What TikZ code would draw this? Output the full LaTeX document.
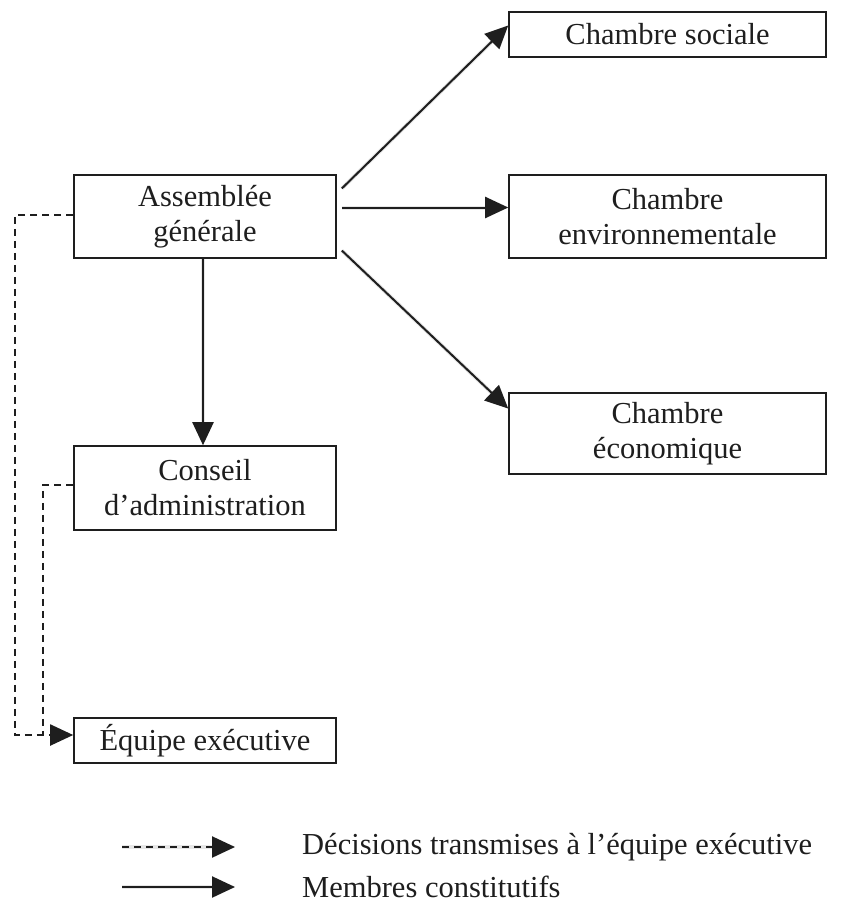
\documentclass[tikz,border=0pt]{standalone}
\usepackage{fontspec}
\setmainfont{Liberation Serif}
\usetikzlibrary{arrows.meta,calc}
\definecolor{ink}{HTML}{1E1E1E}
\definecolor{shade}{HTML}{D0D0D0}
\tikzset{
  box/.style={draw=ink, line width=1.6pt, minimum width=262pt, inner sep=0pt, align=center,
    text=ink, font=\fontsize{30.5}{35}\selectfont},
  lbl/.style={anchor=west, inner sep=0pt, text=ink, font=\fontsize{30.5}{35}\selectfont},
  conn/.style={draw=ink, line width=2pt, -{Triangle[length=23pt,width=21pt]}},
  dconn/.style={conn, dash pattern=on 7pt off 5pt},
  shd/.style={draw=shade, line width=4pt, -{Triangle[length=23pt,width=21pt]}, opacity=0.5}
}
\begin{document}
\begin{tikzpicture}[x=1pt,y=-1pt]
\useasboundingbox (0,0) rectangle (841,914);
% boxes
\node[box, minimum height=83pt] (ag) at (205,216.5) {Assemblée\\générale};
\node[box, minimum height=84pt] (cd) at (205,488) {Conseil\\d’administration};
\node[box, minimum height=45pt] (eq) at (205,740.5) {Équipe exécutive};
\node[box, minimum width=317pt, minimum height=45pt] (cs) at (667.5,34.5) {Chambre sociale};
\node[box, minimum width=317pt, minimum height=83pt] (ce) at (667.5,216.5) {Chambre\\environnementale};
\node[box, minimum width=317pt, minimum height=81pt] (cc) at (667.5,433.5) {Chambre\\économique};
% shadows
\begin{scope}[shift={(3,4)}]
\path[shd] ([shift={(5pt,28pt)}]ag.east) -- ([yshift=9pt]cs.west);
\path[shd] ([shift={(5pt,9pt)}]ag.east) -- ([yshift=9pt]ce.west);
\path[shd] ([shift={(5pt,-34pt)}]ag.east) -- ([yshift=25pt]cc.west);
\path[shd] ([xshift=-2pt]ag.south) -- ([xshift=-2pt]cd.north);
\end{scope}
% solid connectors
\draw[conn] ([shift={(5pt,28pt)}]ag.east) -- ([yshift=9pt]cs.west);
\draw[conn] ([shift={(5pt,9pt)}]ag.east) -- ([yshift=9pt]ce.west);
\draw[conn] ([shift={(5pt,-34pt)}]ag.east) -- ([yshift=25pt]cc.west);
\draw[conn] ([xshift=-2pt]ag.south) -- ([xshift=-2pt]cd.north);
% dashed connectors
\coordinate (d1) at (15,600);
\coordinate (d2) at (43,735);
\draw[dconn] ([yshift=1.5pt]ag.west) -| (d1) |- ([yshift=5.5pt]eq.west);
\draw[draw=ink, line width=2pt, dash pattern=on 7pt off 5pt] ([yshift=3pt]cd.west) -| (d2);
% legend
\coordinate (la) at (122,847);
\coordinate (lb) at (235,847);
\coordinate (lc) at (122,887);
\coordinate (ld) at (235,887);
\begin{scope}[shift={(3,4)}]
\path[shd] (la) -- (lb);
\path[shd] (lc) -- (ld);
\end{scope}
\draw[dconn] (la) -- (lb);
\draw[conn] (lc) -- (ld);
\node[lbl] (t1) at (302,847) {Décisions transmises à l’équipe exécutive};
\node[lbl] (t2) at (302,887) {Membres constitutifs};
\end{tikzpicture}
\end{document}
